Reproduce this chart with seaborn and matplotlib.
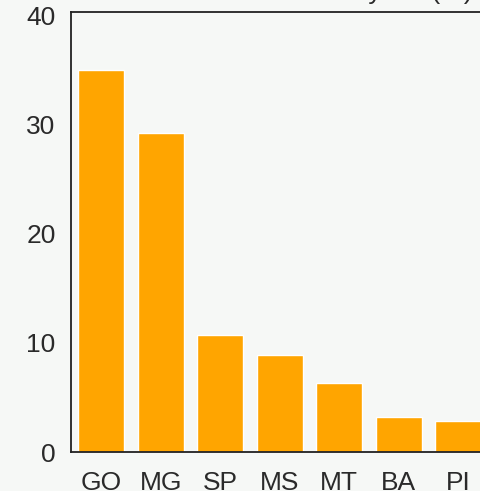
import matplotlib
matplotlib.use("Agg")
import matplotlib.pyplot as plt
import seaborn as sns
import pandas as pd

# values
states = ["GO", "MG", "SP", "MS", "MT", "BA", "PI"]
share = [35.0, 29.2, 10.7, 8.9, 6.3, 3.2, 2.8]
y_ticks = [0, 10, 20, 30, 40]

df = pd.DataFrame({"state": states, "share": share})

sns.set_theme(style="white")
plt.rcParams["font.family"] = ["Liberation Sans", "DejaVu Sans"]

bg = "#f6f8f6"
fig = plt.figure(figsize=(4.81, 4.91), dpi=100, facecolor=bg)
# the reference is a crop: the plot area runs past the right edge
ax = fig.add_axes([71 / 481, 39 / 491, 417 / 481, 440 / 491])
ax.set_facecolor(bg)

sns.barplot(data=df, x="state", y="share", color="#ffa500", saturation=1,
            width=0.77, ax=ax)

ax.set_xlim(-0.51, 6.5)
ax.set_ylim(0, 40.3)
ax.set_yticks(y_ticks)
ax.set_xlabel("")
ax.set_ylabel("")
ax.tick_params(axis="both", length=0, labelsize=19, colors="#2a2a2a")
ax.tick_params(axis="y", pad=11)
ax.tick_params(axis="x", pad=14)
for side in ["left", "top", "bottom", "right"]:
    ax.spines[side].set_color("#222222")
    ax.spines[side].set_linewidth(1.3)

# title sits above the crop, only its descenders show
fig.text(473 / 481, 1 + 1 / 491, "Share by UF (%)", ha="right", va="baseline",
         fontsize=19, color="#2a2a2a")

fig.savefig("out.png", dpi=100, facecolor=bg)
